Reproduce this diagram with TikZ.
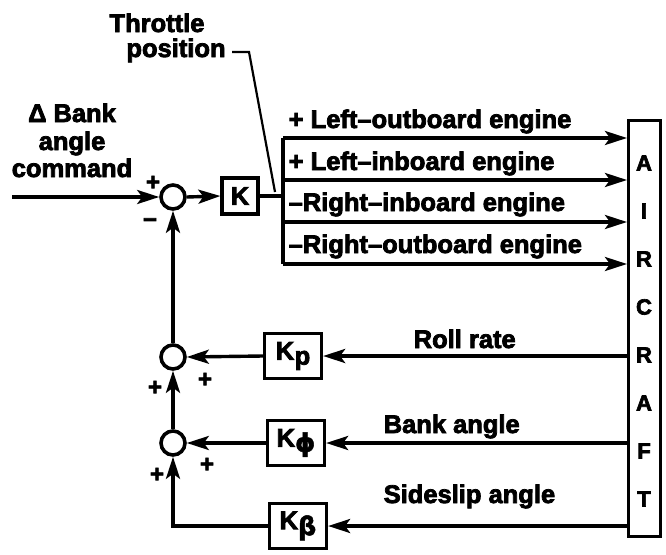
\documentclass[tikz,border=0pt]{standalone}
\usepackage{fontspec}
\setmainfont{Liberation Sans}[BoldFeatures={FakeBold=3}]
\newfontfamily\gkfont{DejaVu Sans}[BoldFeatures={FakeBold=2}]
\usetikzlibrary{arrows.meta}
\begin{document}
\begin{tikzpicture}[x=1pt,y=-1pt, line width=3.4pt,
  lbl/.style={font=\fontsize{25.5}{28}\selectfont\bfseries, inner sep=0pt},
  gain/.style={draw, line width=3.2pt, minimum width=57pt, minimum height=45pt, inner sep=0pt, font=\fontsize{25.5}{28}\selectfont\bfseries},
  sumpt/.style={circle, draw, line width=3.6pt, minimum size=24pt, inner sep=0pt},
  arr/.style={-{Stealth[length=22pt,width=14pt,inset=5pt]}},
  sgn/.style={font=\fontsize{24}{24}\selectfont\bfseries, inner sep=0pt},
  acl/.style={font=\fontsize{22}{22}\selectfont\bfseries, inner sep=0pt}]
\useasboundingbox (0,0) rectangle (666,554);
% summing junctions
\node[sumpt] (s1) at (173,197) {};
\node[sumpt] (s2) at (173,357) {};
\node[sumpt] (s3) at (173,443) {};
% gains
\node[gain, minimum width=36pt, minimum height=36pt] (K) at (240,196) {K};
\node[gain] (Kp) at (293,356) {K\kern0.5pt\raisebox{-5pt}{p}};
\node[gain] (Kf) at (296,443) {K\raisebox{-5pt}{\gkfont\bfseries ϕ}};
\node[gain] (Kb) at (298,526) {K\raisebox{-6pt}{\gkfont\bfseries β}};
% aircraft
\node[draw, line width=3pt, minimum width=32pt, minimum height=416pt, inner sep=0pt] (ac) at (644.5,328.5) {};
\foreach \l [count=\i from 0] in {A,I,R,C,R,A,F,T}
  \node[acl] (acl\i) at (644,163+48*\i) {\l};
% bus
\coordinate (e1) at (283,138);
\coordinate (e2) at (283,180);
\coordinate (e3) at (283,222);
\coordinate (e4) at (283,264);
\coordinate (bj) at (283,196);
\draw (K.east) -- (bj);
\draw (e1) -- (e4);
\foreach \e in {e1,e2,e3,e4}
  \draw[arr] (\e) -- (ac.west |- \e);
\node[lbl, anchor=base west] (l1) at (287,128) {+ Left–outboard engine};
\node[lbl, anchor=base west] (l2) at (287,170) {+ Left–inboard engine};
\node[lbl, anchor=base west] (l3) at (287,211) {–Right–inboard engine};
\node[lbl, anchor=base west] (l4) at (287,253) {–Right–outboard engine};
% input
\coordinate (in) at (12,197);
\draw[arr] (in) -- (s1.west);
\draw[arr] (s1.east) -- (K.west);
\node[lbl, anchor=base] (c1) at (72,122) {Δ Bank};
\node[lbl, anchor=base] (c2) at (72,150) {angle};
\node[lbl, anchor=base] (c3) at (72,177) {command};
% throttle
\node[lbl, anchor=base] (th1) at (157,32) {Throttle};
\node[lbl, anchor=base] (th2) at (176,57) {position};
\coordinate (t0) at (232,52);
\coordinate (t1) at (249,52);
\coordinate (t2) at (275,192);
\draw[line width=2.2pt] (t0) -- (t1) -- (t2);
% feedback
\draw[arr] (ac.west |- Kp) -- (Kp.east);
\draw[arr] (Kp.west) -- (s2.east);
\draw[arr] (ac.west |- Kf) -- (Kf.east);
\draw[arr] (Kf.west) -- (s3.east);
\draw[arr] (ac.west |- Kb) -- (Kb.east);
\draw[arr] (Kb.west) -| (s3.south);
\draw[arr] (s3.north) -- (s2.south);
\draw[arr] (s2.north) -- (s1.south);
\node[lbl, anchor=base west] (fr) at (412,348) {Roll rate};
\node[lbl, anchor=base west] (fb) at (382,433) {Bank angle};
\node[lbl, anchor=base west] (fs) at (382,503) {Sideslip angle};
% signs
\node[sgn] (p1) at (153,183) {+};
\node[sgn] (m1) at (150,223) {−};
\node[sgn] (p2) at (205,380) {+};
\node[sgn] (p3) at (155,388) {+};
\node[sgn] (p4) at (207,465) {+};
\node[sgn] (p5) at (157,475) {+};
\end{tikzpicture}
\end{document}
